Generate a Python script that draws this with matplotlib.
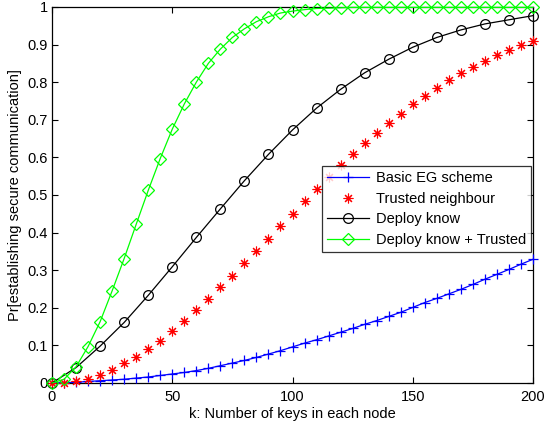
import matplotlib
matplotlib.use("Agg")
import matplotlib.pyplot as plt
import numpy as np

plt.rcParams['font.family'] = ['Liberation Sans', 'DejaVu Sans']

k5 = list(range(0, 201, 5))
k10 = list(range(0, 201, 10))

basic_eg = [0, 0.001, 0.002, 0.004, 0.006, 0.008, 0.010, 0.013, 0.016, 0.020,
            0.024, 0.028, 0.033, 0.039, 0.046, 0.053, 0.060, 0.068, 0.077, 0.086,
            0.096, 0.106, 0.115, 0.125, 0.135, 0.145, 0.156, 0.166, 0.177, 0.188,
            0.201, 0.214, 0.225, 0.237, 0.249, 0.262, 0.276, 0.289, 0.302, 0.316,
            0.329]
trusted = [0, 0.001, 0.004, 0.011, 0.022, 0.035, 0.052, 0.070, 0.090, 0.113,
           0.137, 0.164, 0.194, 0.223, 0.254, 0.285, 0.318, 0.351, 0.383, 0.417,
           0.449, 0.483, 0.516, 0.549, 0.581, 0.609, 0.637, 0.664, 0.691, 0.716,
           0.741, 0.762, 0.785, 0.806, 0.824, 0.840, 0.857, 0.872, 0.886, 0.899,
           0.910]
deploy = [0, 0.041, 0.098, 0.161, 0.233, 0.309, 0.387, 0.463, 0.538, 0.608,
          0.673, 0.731, 0.781, 0.825, 0.861, 0.893, 0.919, 0.939, 0.955, 0.966,
          0.977]
deploy_trusted = [0, 0.010, 0.043, 0.097, 0.163, 0.245, 0.331, 0.422, 0.512, 0.597,
                  0.675, 0.742, 0.800, 0.850, 0.888, 0.919, 0.942, 0.961, 0.974, 0.984,
                  0.989, 0.993, 0.996, 0.997, 0.998, 0.999, 0.999, 0.999, 0.999, 0.999,
                  0.999, 0.999, 0.999, 0.999, 0.999, 0.999, 0.999, 0.999, 0.999, 0.999,
                  0.999]

labels = ['Basic EG scheme', 'Trusted neighbour', 'Deploy know', 'Deploy know + Trusted']
xticks = [0, 50, 100, 150, 200]
yticks = [0, 0.1, 0.2, 0.3, 0.4, 0.5, 0.6, 0.7, 0.8, 0.9, 1]
yticklabels = ['0', '0.1', '0.2', '0.3', '0.4', '0.5', '0.6', '0.7', '0.8', '0.9', '1']

FS = 10.5

fig = plt.figure(figsize=(5.44, 4.28), dpi=100)
ax = fig.add_axes([52/544, 45/428, 481/544, 376/428])

ax.plot(k5, basic_eg, color='#0000ff', marker='+', markersize=7, linewidth=0.9,
        markeredgewidth=0.9, label=labels[0], clip_on=False, zorder=3)
ax.plot(k5, trusted, color='#ff0000', marker=(8, 2, 0), markersize=7, linestyle='none',
        markeredgewidth=0.8, label=labels[1], clip_on=False, zorder=3)
ax.plot(k10, deploy, color='black', marker='o', markersize=7, linewidth=0.9,
        markerfacecolor='none', markeredgewidth=0.9, label=labels[2], clip_on=False, zorder=3)
ax.plot(k5, deploy_trusted, color='#00ff00', marker='D', markersize=6, linewidth=0.9,
        markerfacecolor='none', markeredgewidth=0.9, label=labels[3], clip_on=False, zorder=3)

ax.set_xlim(0, 200)
ax.set_ylim(0, 1)
ax.set_xticks(xticks)
ax.set_yticks(yticks)
ax.set_yticklabels(yticklabels)
ax.tick_params(direction='in', top=True, right=True, labelsize=FS, length=4, width=0.8)
ax.tick_params(axis='x', pad=5)
ax.tick_params(axis='y', pad=3)
for s in ax.spines.values():
    s.set_linewidth(0.9)

ax.set_xlabel('k: Number of keys in each node', fontsize=FS, labelpad=2)
ax.set_ylabel('Pr[establishing secure communication]', fontsize=FS, labelpad=4)

leg = ax.legend(loc='upper right', bbox_to_anchor=(0.996, 0.577), borderaxespad=0,
                fontsize=FS, frameon=True, fancybox=False, edgecolor='black',
                handlelength=2.9, labelspacing=0.45, borderpad=0.35, handletextpad=0.45)
leg.get_frame().set_linewidth(0.9)

fig.savefig('out.png', dpi=100)
